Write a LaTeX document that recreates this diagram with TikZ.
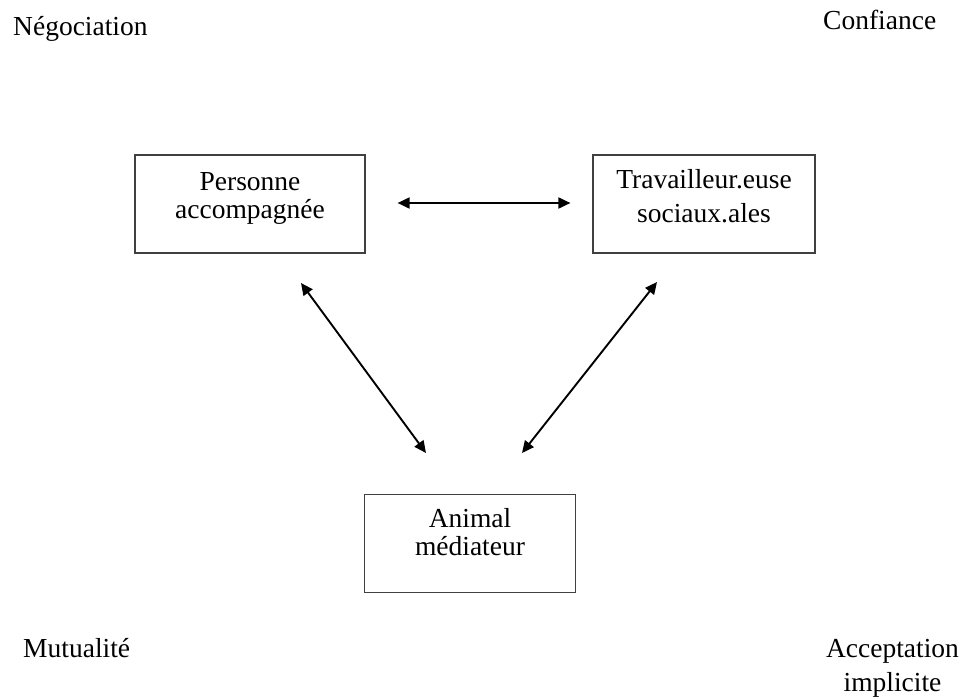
\documentclass[tikz,border=0pt]{standalone}
\usepackage{fontspec}
\setmainfont{Liberation Serif}
\usetikzlibrary{arrows.meta}
\newcommand{\boxtext}[2]{\raisebox{#1}[\height][\depth]{\begin{tabular}{@{}c@{}}#2\end{tabular}}}
\begin{document}
\begin{tikzpicture}[x=1pt,y=-1pt,
  lbl/.style={inner sep=0pt, font=\fontsize{27.5}{34}\selectfont, align=center},
  box/.style={draw=black!75, line width=1.2pt, inner sep=0pt,
    font=\fontsize{27.5}{28}\selectfont, minimum height=98pt},
  link/.style={line width=1.9pt, {Triangle[length=12pt,width=11pt]}-{Triangle[length=12pt,width=11pt]}}
]
\useasboundingbox (0,0) rectangle (965,698);
\fill[white] (0,0) rectangle (965,698);
% corner labels
\node[lbl, anchor=base west] (neg) at (13,36) {Négociation};
\node[lbl, anchor=base west] (conf) at (823,30) {Confiance};
\node[lbl, anchor=base west] (mut) at (23,657) {Mutualité};
\node[lbl, anchor=north] (acc) at (892.5,639) {Acceptation\\implicite};
% boxes
\node[box, minimum width=230pt] (p) at (250,204) {\boxtext{5.6pt}{Personne\\accompagnée}};
\node[box, minimum width=222pt] (t) at (704,204) {\boxtext{4.6pt}{Travailleur.euse\\[6pt]sociaux.ales}};
\node[box, minimum width=211pt] (a) at (470,543.5) {\boxtext{8pt}{Animal\\médiateur}};
% connector ends
\coordinate (pa1) at (301,283);
\coordinate (pa2) at (426,453);
\coordinate (ta1) at (657,282);
\coordinate (ta2) at (522,453);
\draw[link, shorten <=32pt, shorten >=22pt] ([yshift=1pt]p.east) -- ([yshift=1pt]t.west);
\draw[link] (pa1) -- (pa2);
\draw[link] (ta1) -- (ta2);
\end{tikzpicture}
\end{document}
